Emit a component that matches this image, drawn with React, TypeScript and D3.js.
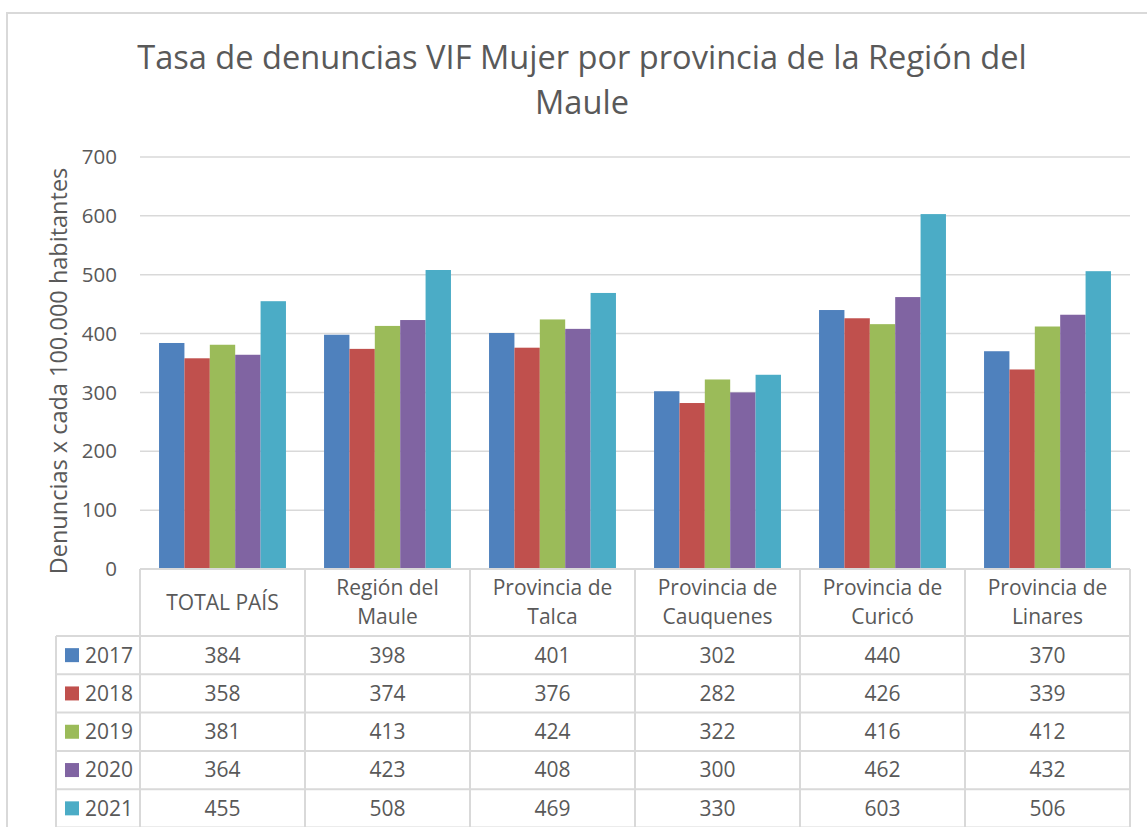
import React from "react";
import * as d3 from "d3";

const categories = [
  ["TOTAL PAÍS"],
  ["Región del", "Maule"],
  ["Provincia de", "Talca"],
  ["Provincia de", "Cauquenes"],
  ["Provincia de", "Curicó"],
  ["Provincia de", "Linares"],
];
const years = ["2017", "2018", "2019", "2020", "2021"];
const v2017 = [384, 398, 401, 302, 440, 370];
const v2018 = [358, 374, 376, 282, 426, 339];
const v2019 = [381, 413, 424, 322, 416, 412];
const v2020 = [364, 423, 408, 300, 462, 432];
const v2021 = [455, 508, 469, 330, 603, 506];
const seriesValues = [v2017, v2018, v2019, v2020, v2021];
const colors = ["#4F81BD", "#C0504D", "#9BBB59", "#8064A2", "#4BACC6"];
const yTicks = [0, 100, 200, 300, 400, 500, 600, 700];

const FONT = "'Open Sans', sans-serif";
const TXT = "#595959";
const GRID = "#d9d9d9";

export default function App() {
  const W = 1147, H = 827;
  const x0 = 140, x1 = 1130;
  const yBase = 569, yTop = 157;
  const catIdx = categories.map((_, i) => String(i));
  const x = d3.scaleBand<string>().domain(catIdx).range([x0, x1]).paddingInner(0).paddingOuter(0);
  const xs = d3.scaleBand<string>().domain(years).range([0, x.bandwidth()]).paddingInner(0).paddingOuter(0.75);
  const y = d3.scaleLinear().domain([0, 700]).range([yBase, yTop]);

  const headerBottom = 636;
  const rowH = 38.3;
  const legendLeft = 56;
  const TF = 21;

  return (
    <svg width={W} height={H} style={{ position: "absolute", left: 0, top: 0, background: "#fff" }} fontFamily={FONT}>
      <rect x={0} y={0} width={W} height={H} fill="#fff" />
      <rect x={7} y={13} width={W + 20} height={H + 20} fill="none" stroke={GRID} strokeWidth={2} />
      <text x={582} y={69} textAnchor="middle" fontSize={32.6} fill={TXT}>
        Tasa de denuncias VIF Mujer por provincia de la Región del
      </text>
      <text x={582} y={114} textAnchor="middle" fontSize={32.6} fill={TXT}>Maule</text>

      <text transform={`translate(67,${(yTop + yBase) / 2 + 8}) rotate(-90)`} textAnchor="middle" fontSize={23.5} fill={TXT}>
        Denuncias x cada 100.000 habitantes
      </text>

      {yTicks.map((t) => (
        <g key={t}>
          {t > 0 && <line x1={x0} x2={x1} y1={y(t)} y2={y(t)} stroke={GRID} strokeWidth={1.5} />}
          <text x={117} y={y(t)} dy="0.35em" textAnchor="end" fontSize={20.5} fill={TXT}>{t}</text>
        </g>
      ))}

      {seriesValues.map((vals, s) =>
        vals.map((v, i) => (
          <rect key={`${s}-${i}`} x={(x(String(i)) ?? 0) + (xs(years[s]) ?? 0)} y={y(v)} width={xs.bandwidth()} height={yBase - y(v)} fill={colors[s]} />
        ))
      )}

      {/* table grid */}
      <g stroke={GRID} strokeWidth={2} fill="none">
        <line x1={x0} x2={x1} y1={yBase} y2={yBase} />
        {d3.range(6).map((r) => (
          <line key={r} x1={legendLeft} x2={x1} y1={headerBottom + r * rowH} y2={headerBottom + r * rowH} />
        ))}
        <line x1={legendLeft} x2={legendLeft} y1={headerBottom} y2={H + 5} />
        {catIdx.map((c) => (
          <line key={c} x1={x(c)} x2={x(c)} y1={yBase} y2={H + 5} />
        ))}
        <line x1={x1} x2={x1} y1={yBase} y2={H + 5} />
      </g>

      {categories.map((lines, i) => {
        const cx = (x(String(i)) ?? 0) + x.bandwidth() / 2;
        const cy = (yBase + headerBottom) / 2;
        const lh = 29;
        return (
          <text key={i} textAnchor="middle" fontSize={TF} fill={TXT}>
            {lines.map((l, k) => (
              <tspan key={k} x={cx} y={cy + (k - (lines.length - 1) / 2) * lh} dy="0.35em">{l}</tspan>
            ))}
          </text>
        );
      })}

      {years.map((yr, s) => {
        const cy = headerBottom + s * rowH + rowH / 2;
        return (
          <g key={yr}>
            <rect x={65} y={cy - 7} width={14} height={14} fill={colors[s]} />
            <text x={85} y={cy} dy="0.35em" fontSize={TF} fill={TXT}>{yr}</text>
            {seriesValues[s].map((v, i) => (
              <text key={i} x={(x(String(i)) ?? 0) + x.bandwidth() / 2} y={cy} dy="0.35em" textAnchor="middle" fontSize={TF} fill={TXT}>{v}</text>
            ))}
          </g>
        );
      })}
    </svg>
  );
}
